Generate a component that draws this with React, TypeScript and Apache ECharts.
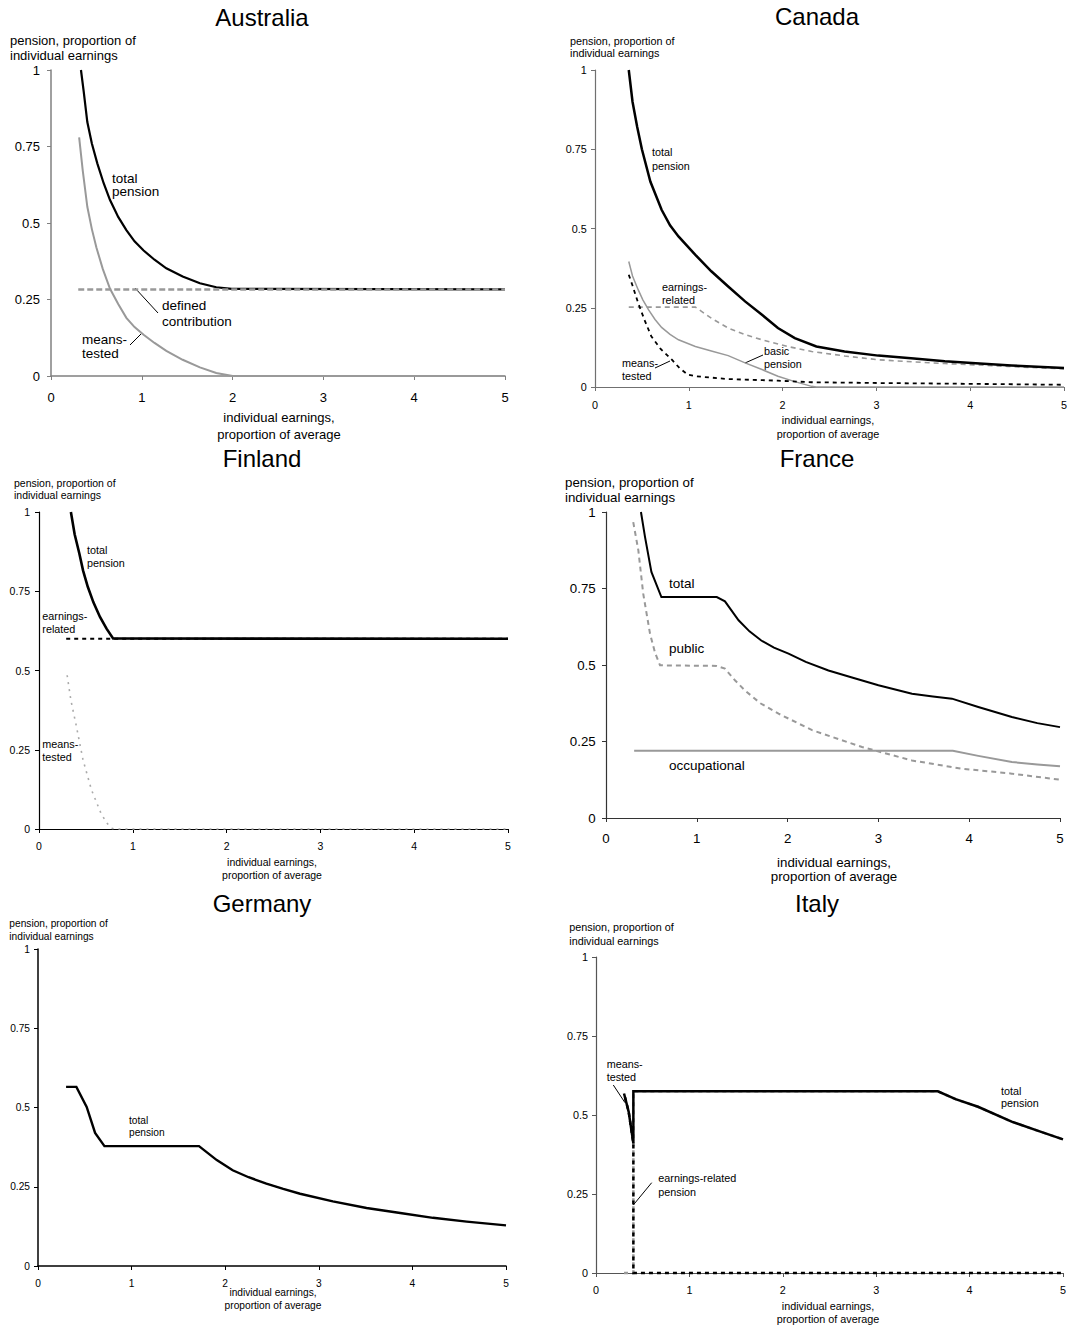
import React, { useEffect, useRef } from "react";
import * as echarts from "echarts";

const F = "'Liberation Sans', Arial, Helvetica, sans-serif";

// ---------- data (x = individual earnings / average, y = pension / earnings) ----------
const countries = ["Australia", "Canada", "Finland", "France", "Germany", "Italy"];
const xTickMax = 5;
const yTickStep = 0.25;

const ausTotal = [[0.33,1.0],[0.36,0.93],[0.40,0.83],[0.45,0.76],[0.51,0.695],[0.58,0.63],[0.65,0.575],[0.74,0.52],[0.83,0.477],[0.92,0.44],[1.02,0.41],[1.14,0.38],[1.27,0.352],[1.45,0.325],[1.64,0.303],[1.82,0.29],[1.99,0.285],[5,0.283]];
const ausMeansTested = [[0.31,0.78],[0.35,0.67],[0.40,0.553],[0.45,0.48],[0.50,0.42],[0.57,0.35],[0.65,0.285],[0.74,0.235],[0.83,0.19],[0.92,0.16],[1.02,0.135],[1.14,0.108],[1.27,0.082],[1.45,0.053],[1.64,0.028],[1.82,0.01],[2.0,0],[5,0]];
const ausDefinedContribution = [[0.3,0.283],[5,0.283]];

const canTotal = [[0.36,1.0],[0.40,0.90],[0.45,0.82],[0.50,0.75],[0.59,0.648],[0.71,0.559],[0.80,0.51],[0.89,0.475],[1.07,0.417],[1.24,0.365],[1.42,0.317],[1.60,0.27],[1.78,0.228],[1.95,0.186],[2.13,0.154],[2.36,0.128],[2.66,0.112],[3.02,0.099],[3.4,0.09],[3.73,0.081],[4.1,0.074],[4.44,0.068],[5.0,0.06]];
const canEarningsRelated = [[0.36,0.252],[1.07,0.252],[1.24,0.217],[1.42,0.186],[1.6,0.165],[1.78,0.149],[2.05,0.128],[2.31,0.112],[2.66,0.098],[3.02,0.086],[3.4,0.079],[3.73,0.074],[4.4,0.065],[5,0.057]];
const canBasic = [[0.36,0.396],[0.40,0.35],[0.46,0.307],[0.51,0.275],[0.57,0.244],[0.64,0.213],[0.71,0.188],[0.80,0.166],[0.89,0.149],[1.07,0.128],[1.25,0.113],[1.42,0.099],[1.60,0.076],[1.78,0.055],[1.95,0.034],[2.13,0.017],[2.31,0.002],[2.36,0],[5,0]];
const canMeansTested = [[0.36,0.354],[0.40,0.32],[0.46,0.265],[0.53,0.21],[0.60,0.16],[0.70,0.12],[0.82,0.086],[0.90,0.06],[0.99,0.039],[1.07,0.034],[1.42,0.025],[1.95,0.02],[2.31,0.015],[3.02,0.0126],[4,0.01],[5,0.007]];

const finTotal = [[0.34,1.0],[0.38,0.93],[0.43,0.869],[0.47,0.815],[0.52,0.764],[0.58,0.715],[0.65,0.669],[0.72,0.632],[0.79,0.601],[5,0.6]];
const finEarningsRelated = [[0.29,0.6],[5,0.6]];
const finMeansTested = [[0.30,0.485],[0.34,0.406],[0.40,0.322],[0.47,0.217],[0.56,0.123],[0.66,0.05],[0.72,0.02],[0.77,0.003],[0.8,0],[5,0]];

const fraTotal = [[0.385,1.0],[0.43,0.918],[0.50,0.804],[0.61,0.722],[1.22,0.722],[1.31,0.708],[1.46,0.646],[1.58,0.61],[1.71,0.58],[1.85,0.557],[2.01,0.537],[2.2,0.51],[2.45,0.482],[2.7,0.46],[3.0,0.434],[3.37,0.406],[3.6,0.397],[3.81,0.39],[4.10,0.363],[4.47,0.33],[4.75,0.31],[5,0.297]];
const fraPublic = [[0.30,0.967],[0.356,0.875],[0.41,0.733],[0.485,0.602],[0.54,0.54],[0.595,0.499],[1.22,0.497],[1.31,0.488],[1.42,0.45],[1.53,0.417],[1.7,0.375],[1.90,0.341],[2.27,0.287],[2.82,0.232],[3.37,0.188],[3.92,0.161],[4.47,0.145],[5,0.125]];
const fraOccupational = [[0.31,0.22],[3.82,0.22],[4.10,0.203],[4.47,0.183],[4.75,0.175],[5,0.169]];

const gerTotal = [[0.30,0.565],[0.41,0.565],[0.52,0.502],[0.61,0.42],[0.71,0.378],[1.72,0.378],[1.91,0.334],[2.08,0.302],[2.25,0.28],[2.44,0.26],[2.62,0.243],[2.80,0.228],[3.15,0.204],[3.51,0.183],[3.87,0.167],[4.22,0.152],[4.58,0.14],[5,0.128]];

const itaTotal = [[0.30,0.568],[0.35,0.51],[0.40,0.41],[0.40,0.575],[3.66,0.575],[3.85,0.55],[4.09,0.526],[4.45,0.479],[4.75,0.448],[5,0.423]];
const itaMeansTested = [[0.30,0.568],[0.35,0.51],[0.40,0.41],[0.40,0],[5,0]];
const itaEarningsRelated = [[0.30,0],[0.40,0],[0.40,0.575],[3.66,0.575],[3.85,0.55],[4.09,0.526],[4.45,0.479],[4.75,0.448],[5,0.423]];

// ---------- layout ----------
type Panel = {
  grid: [number, number, number, number];
  axisColor: string;
  axisWidth: number;
  font: number;
  xMargin: number;
  yMargin: number;
  title: [number, number];
  yTitle: [number, number, number];
  xTitle: [number, number, number];
};

const panels: Panel[] = [
  { grid: [51, 70, 454, 306], axisColor: "#808080", axisWidth: 1.5, font: 13, xMargin: 15, yMargin: 11, title: [262, 17], yTitle: [10, 40, 15], xTitle: [279, 417, 17] },
  { grid: [595, 70, 469, 317], axisColor: "#707070", axisWidth: 1.2, font: 10.8, xMargin: 12.5, yMargin: 8.3, title: [817, 16], yTitle: [570, 40.7, 12.7], xTitle: [828, 420, 13.5] },
  { grid: [39, 512, 469, 317], axisColor: "#000000", axisWidth: 1.2, font: 10.5, xMargin: 11.5, yMargin: 9, title: [262, 458], yTitle: [14, 482.7, 12.3], xTitle: [272, 862, 13.3] },
  { grid: [606, 512, 454, 306], axisColor: "#333333", axisWidth: 1.2, font: 13.3, xMargin: 13.5, yMargin: 10.3, title: [817, 458], yTitle: [565, 482.7, 14.7], xTitle: [834, 862, 14.5] },
  { grid: [38, 949, 468, 317], axisColor: "#000000", axisWidth: 1.5, font: 10.2, xMargin: 12.3, yMargin: 8, title: [262, 903], yTitle: [9.3, 924, 12.7], xTitle: [273, 1292.7, 13.3] },
  { grid: [596, 957, 467, 316], axisColor: "#555555", axisWidth: 1.2, font: 10.8, xMargin: 11.3, yMargin: 8, title: [817, 903], yTitle: [569.3, 927.3, 13.3], xTitle: [828, 1306, 13.3] },
];

const BLACK = "#000000";
const GRAY = "#999999";

function text(x: number, y1: number, str: string, fontSize: number, lh: number, align = "left") {
  return {
    type: "text",
    x,
    y: y1 - lh / 2,
    silent: true,
    style: {
      text: str,
      fontSize,
      fontFamily: F,
      lineHeight: lh,
      fill: "#000",
      textAlign: align,
      textVerticalAlign: "top",
    },
  };
}

function leader(x1: number, y1: number, x2: number, y2: number) {
  return { type: "line", silent: true, shape: { x1, y1, x2, y2 }, style: { stroke: "#000", lineWidth: 1 } };
}

function line(idx: number, data: number[][], color: string, width: number, type: any = "solid", dashOffset = 0) {
  return {
    type: "line",
    xAxisIndex: idx,
    yAxisIndex: idx,
    data,
    showSymbol: false,
    symbol: "none",
    silent: true,
    clip: false,
    lineStyle: { color, width, type, dashOffset, cap: "butt", join: "miter" },
  };
}

function buildOption() {
  const grid = panels.map((p) => ({ left: p.grid[0], top: p.grid[1], width: p.grid[2], height: p.grid[3] }));
  const xAxis = panels.map((p, i) => ({
    type: "value",
    gridIndex: i,
    min: 0,
    max: xTickMax,
    interval: 1,
    axisLine: { show: true, onZero: false, lineStyle: { color: p.axisColor, width: p.axisWidth } },
    axisTick: { show: true, length: 4, lineStyle: { color: p.axisColor, width: 1 } },
    axisLabel: { fontSize: p.font, color: "#000", margin: p.xMargin, fontFamily: F },
    splitLine: { show: false },
  }));
  const yAxis = panels.map((p, i) => ({
    type: "value",
    gridIndex: i,
    min: 0,
    max: 1,
    interval: yTickStep,
    axisLine: { show: true, onZero: false, lineStyle: { color: p.axisColor, width: p.axisWidth } },
    axisTick: { show: true, length: 4, lineStyle: { color: p.axisColor, width: 1 } },
    axisLabel: { fontSize: p.font, color: "#000", margin: p.yMargin, fontFamily: F },
    splitLine: { show: false },
  }));

  const series = [
    // Australia
    line(0, ausMeansTested, GRAY, 2),
    line(0, ausTotal, BLACK, 2.2),
    line(0, ausDefinedContribution, GRAY, 2.5, [6, 3]),
    // Canada
    line(1, canBasic, GRAY, 1.5),
    line(1, canEarningsRelated, GRAY, 1.6, [5, 4]),
    line(1, canMeansTested, BLACK, 1.8, [4, 4]),
    line(1, canTotal, BLACK, 2.5),
    // Finland
    line(2, finMeansTested, "#aaaaaa", 1.6, [2, 5]),
    line(2, finEarningsRelated, BLACK, 2, [4, 4]),
    line(2, finTotal, BLACK, 2.6),
    // France
    line(3, fraOccupational, GRAY, 2),
    line(3, fraPublic, GRAY, 2, [5, 4]),
    line(3, fraTotal, BLACK, 2),
    // Germany
    line(4, gerTotal, BLACK, 2.4),
    // Italy
    line(5, itaEarningsRelated, GRAY, 2.5, [4, 4]),
    line(5, itaMeansTested, BLACK, 2.5, [4, 4], 4),
    line(5, itaTotal, BLACK, 2.5),
  ];

  const graphic: any[] = [];
  panels.forEach((p, i) => {
    graphic.push({
      type: "text",
      x: p.title[0],
      y: p.title[1],
      silent: true,
      style: { text: countries[i], fontSize: 24, fontFamily: F, fill: "#000", textAlign: "center", textVerticalAlign: "middle" },
    });
    graphic.push(text(p.yTitle[0], p.yTitle[1], "pension, proportion of\nindividual earnings", p.font, p.yTitle[2]));
    graphic.push(text(p.xTitle[0], p.xTitle[1], "individual earnings,\nproportion of average", p.font, p.xTitle[2], "center"));
  });

  // Australia annotations
  graphic.push(text(112, 178, "total\npension", 13.5, 13.5));
  graphic.push(text(162, 305, "defined\ncontribution", 13.5, 16.5));
  graphic.push(text(82, 339, "means-\ntested", 13.5, 14));
  graphic.push(leader(135, 288, 158, 313));
  graphic.push(leader(130, 345, 142, 333));
  // Canada annotations
  graphic.push(text(652, 152, "total\npension", 10.8, 14));
  graphic.push(text(662, 287, "earnings-\nrelated", 10.8, 13));
  graphic.push(text(622, 363, "means-\ntested", 10.8, 13));
  graphic.push(text(764, 351, "basic\npension", 10.8, 13.3));
  graphic.push(leader(655, 368, 670, 361));
  graphic.push(leader(745, 363, 763, 355));
  // Finland annotations
  graphic.push(text(87, 550, "total\npension", 10.8, 13.3));
  graphic.push(text(42.3, 615.7, "earnings-\nrelated", 10.8, 13.3));
  graphic.push(text(42.3, 744, "means-\ntested", 10.8, 13));
  // France annotations
  graphic.push(text(669, 583.3, "total", 13.5, 14));
  graphic.push(text(669, 648.3, "public", 13.5, 14));
  graphic.push(text(669, 765, "occupational", 13.5, 14));
  // Germany annotation
  graphic.push(text(129, 1120.7, "total\npension", 10.2, 12));
  // Italy annotations
  graphic.push(text(606.7, 1064.3, "means-\ntested", 10.8, 13));
  graphic.push(text(658.3, 1178.3, "earnings-related\npension", 10.8, 13.4));
  graphic.push(text(1001, 1090.7, "total\npension", 10.8, 12.6));
  graphic.push(leader(613.3, 1085, 625, 1102.7));
  graphic.push(leader(651.7, 1182.7, 633.3, 1205));

  return {
    animation: false,
    backgroundColor: "#ffffff",
    textStyle: { fontFamily: F },
    grid,
    xAxis,
    yAxis,
    series,
    graphic: { elements: graphic },
  };
}

export default function App() {
  const ref = useRef<HTMLDivElement>(null);
  useEffect(() => {
    if (!ref.current) return;
    const chart = echarts.init(ref.current, undefined, { renderer: "svg" });
    chart.setOption(buildOption() as any);
    return () => chart.dispose();
  }, []);
  return (
    <div
      ref={ref}
      style={{ position: "absolute", left: 0, top: 0, width: 1089, height: 1327, background: "#fff" }}
    />
  );
}
